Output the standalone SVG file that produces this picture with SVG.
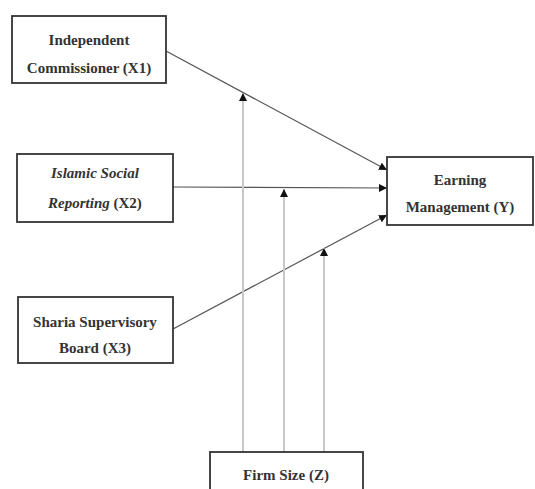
<svg xmlns="http://www.w3.org/2000/svg" width="535" height="489" viewBox="0 0 535 489">
<style>
.box{fill:#fff;stroke:#333;stroke-width:1.8}
.t{font-family:"Liberation Serif",serif;font-size:15px;font-weight:bold;fill:#333;text-anchor:middle}
.i{font-style:italic}
.ln{stroke:#555;stroke-width:1.2;fill:none}
.vl{stroke:#c8c8c8;stroke-width:2;fill:none}
</style>
<defs>
<marker id="ah" viewBox="0 0 10 10" refX="10" refY="5" markerWidth="8" markerHeight="8" markerUnits="userSpaceOnUse" orient="auto">
<path d="M0,0 L10,5 L0,10 z" fill="#111"/>
</marker>
</defs>
<rect width="535" height="489" fill="#fff"/>
<g id="connectors">
<line class="ln" x1="166" y1="51" x2="387" y2="170" marker-end="url(#ah)"/>
<line class="ln" x1="173" y1="187" x2="387" y2="188" marker-end="url(#ah)"/>
<line class="ln" x1="173" y1="329" x2="387" y2="215" marker-end="url(#ah)"/>
<line class="vl" x1="243" y1="452" x2="243" y2="93" marker-end="url(#ah)"/>
<line class="vl" x1="284" y1="452" x2="284" y2="189" marker-end="url(#ah)"/>
<line class="vl" x1="324" y1="452" x2="324" y2="248" marker-end="url(#ah)"/>
</g>
<g id="x1">
<rect class="box" x="12" y="16" width="154" height="67"/>
<text class="t" x="89" y="45">Independent</text>
<text class="t" x="89" y="73">Commissioner (X1)</text>
</g>
<g id="x2">
<rect class="box" x="17" y="154" width="156" height="68"/>
<text class="t i" x="95" y="178">Islamic Social</text>
<text class="t" x="95" y="208"><tspan class="i">Reporting</tspan> (X2)</text>
</g>
<g id="x3">
<rect class="box" x="18" y="297" width="155" height="66"/>
<text class="t" x="95" y="327">Sharia Supervisory</text>
<text class="t" x="95" y="353">Board (X3)</text>
</g>
<g id="y">
<rect class="box" x="387" y="157" width="146" height="68"/>
<text class="t" x="460" y="185">Earning</text>
<text class="t" x="460" y="212">Management (Y)</text>
</g>
<g id="z">
<rect class="box" x="210" y="452" width="153" height="50"/>
<text class="t" x="286" y="480">Firm Size (Z)</text>
</g>
</svg>
